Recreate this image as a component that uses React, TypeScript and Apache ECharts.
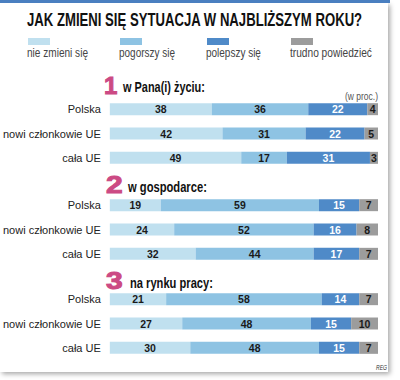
import React, { useEffect, useRef } from "react";
import * as echarts from "echarts";

const rows = ["Polska", "nowi członkowie UE", "cała UE"];
const seriesNames = ["nie zmieni się", "pogorszy się", "polepszy się", "trudno powiedzieć"];
const colors = ["#c0e0ef", "#8ec3e3", "#4f8ac8", "#9c9c9c"];
const labelColors = ["#1a1a1a", "#1a1a1a", "#ffffff", "#1a1a1a"];
const sectionTitles = ["w Pana(i) życiu:", "w gospodarce:", "na rynku pracy:"];
const sectionNumbers = ["1", "2", "3"];

// values per section, per series (rows: Polska, nowi członkowie UE, cała UE)
const life = [
  [38, 42, 49],
  [36, 31, 17],
  [22, 22, 31],
  [4, 5, 3],
];
const economy = [
  [19, 24, 32],
  [59, 52, 44],
  [15, 16, 17],
  [7, 8, 7],
];
const labour = [
  [21, 27, 30],
  [58, 48, 48],
  [14, 15, 15],
  [7, 10, 7],
];
const sections = [life, economy, labour];

const gridTops = [97, 193, 287];
const FAM = "Liberation Sans";
const FONT = "'Liberation Sans', Arial, sans-serif";

function measure(text: string, size: number, weight: string) {
  const ctx = document.createElement("canvas").getContext("2d");
  if (!ctx) return text.length * size * 0.5;
  ctx.font = `${weight} ${size}px '${FAM}'`;
  return ctx.measureText(text).width;
}

export default function App() {
  const ref = useRef<HTMLDivElement>(null);
  useEffect(() => {
    if (!ref.current) return;
    const chart = echarts.init(ref.current, null, { renderer: "svg" });

    const fitText = (text: string, x: number, y: number, width: number, size: number, weight: string, fill: string, extra: any = {}) => ({
      type: "text",
      x,
      y,
      scaleX: width / measure(text, size, weight),
      style: { text, fontSize: size, fontWeight: weight, fontFamily: FONT, fill, verticalAlign: "middle", ...extra },
    });

    const grid = gridTops.map((t) => ({ left: 106, right: 22, top: t, height: 73 }));
    const xAxis = gridTops.map((_, i) => ({
      type: "value" as const,
      gridIndex: i,
      min: 0,
      max: 100,
      show: false,
    }));
    const yAxis = gridTops.map((_, i) => ({
      type: "category" as const,
      gridIndex: i,
      data: rows,
      inverse: true,
      axisLine: { show: false },
      axisTick: { show: false },
      splitLine: { show: false },
      axisLabel: {
        margin: 9,
        fontSize: 11,
        fontFamily: FONT,
        color: "#222",
      },
    }));
    const series: any[] = [];
    sections.forEach((sec, si) => {
      sec.forEach((vals, k) => {
        series.push({
          type: "bar",
          name: seriesNames[k],
          stack: "s" + si,
          xAxisIndex: si,
          yAxisIndex: si,
          barWidth: 12,
          data: vals,
          itemStyle: { color: colors[k] },
          label: {
            show: true,
            position: "inside",
            fontSize: 10.5,
            fontWeight: "bold",
            fontFamily: FONT,
            color: labelColors[k],
          },
        });
      });
    });

    const graphics: any[] = [
      {
        type: "rect",
        shape: { x: 0, y: 3, width: 388, height: 369 },
        style: { fill: "#ffffff", shadowBlur: 5, shadowColor: "rgba(0,0,0,0.35)", shadowOffsetX: 2, shadowOffsetY: 2 },
        z: -10,
      },
      { type: "rect", shape: { x: 0, y: 0, width: 390, height: 3 }, style: { fill: "#4a7fc0" }, z: 1 },
      fitText("JAK ZMIENI SIĘ SYTUACJA W NAJBLIŻSZYM ROKU?", 27, 20, 336, 18, "bold", "#111"),
      fitText("(w proc.)", 345, 97, 33, 10, "normal", "#555"),
      fitText("REG", 376, 367, 11, 8, "normal", "#333", { fontStyle: "italic" }),
    ];
    const legendX = [28, 120, 207, 291];
    const legendW = [61, 56, 55, 82];
    seriesNames.forEach((n, i) => {
      graphics.push({ type: "rect", shape: { x: legendX[i], y: 38, width: 22, height: 7 }, style: { fill: colors[i] } });
      graphics.push(fitText(n, legendX[i] - 1, 53, legendW[i], 12.5, "normal", "#444"));
    });
    const numY = [85, 185, 281];
    const numScale = [1.0, 1.25, 1.25];
    const titleX = [123, 128, 130];
    const titleW = [82, 79, 83];
    sectionTitles.forEach((t, i) => {
      graphics.push({
        type: "text",
        x: i === 0 ? 104 : 106,
        y: numY[i],
        scaleX: numScale[i],
        style: {
          text: sectionNumbers[i],
          fontSize: 24,
          fontWeight: "bold",
          fontFamily: FONT,
          fill: "#cc4a84",
          stroke: "#cc4a84",
          lineWidth: 1,
          verticalAlign: "middle",
          shadowBlur: 2,
          shadowColor: "rgba(0,0,0,0.3)",
          shadowOffsetX: 1,
          shadowOffsetY: 1,
        },
      });
      graphics.push(fitText(t, titleX[i], numY[i] + 2, titleW[i], 15, "bold", "#111"));
    });

    chart.setOption({
      animation: false,
      backgroundColor: "#ffffff",
      grid,
      xAxis,
      yAxis,
      series,
      graphic: graphics,
    });
    return () => chart.dispose();
  }, []);
  return (
    <div
      ref={ref}
      style={{ position: "fixed", left: 0, top: 0, width: 400, height: 380 }}
    />
  );
}
